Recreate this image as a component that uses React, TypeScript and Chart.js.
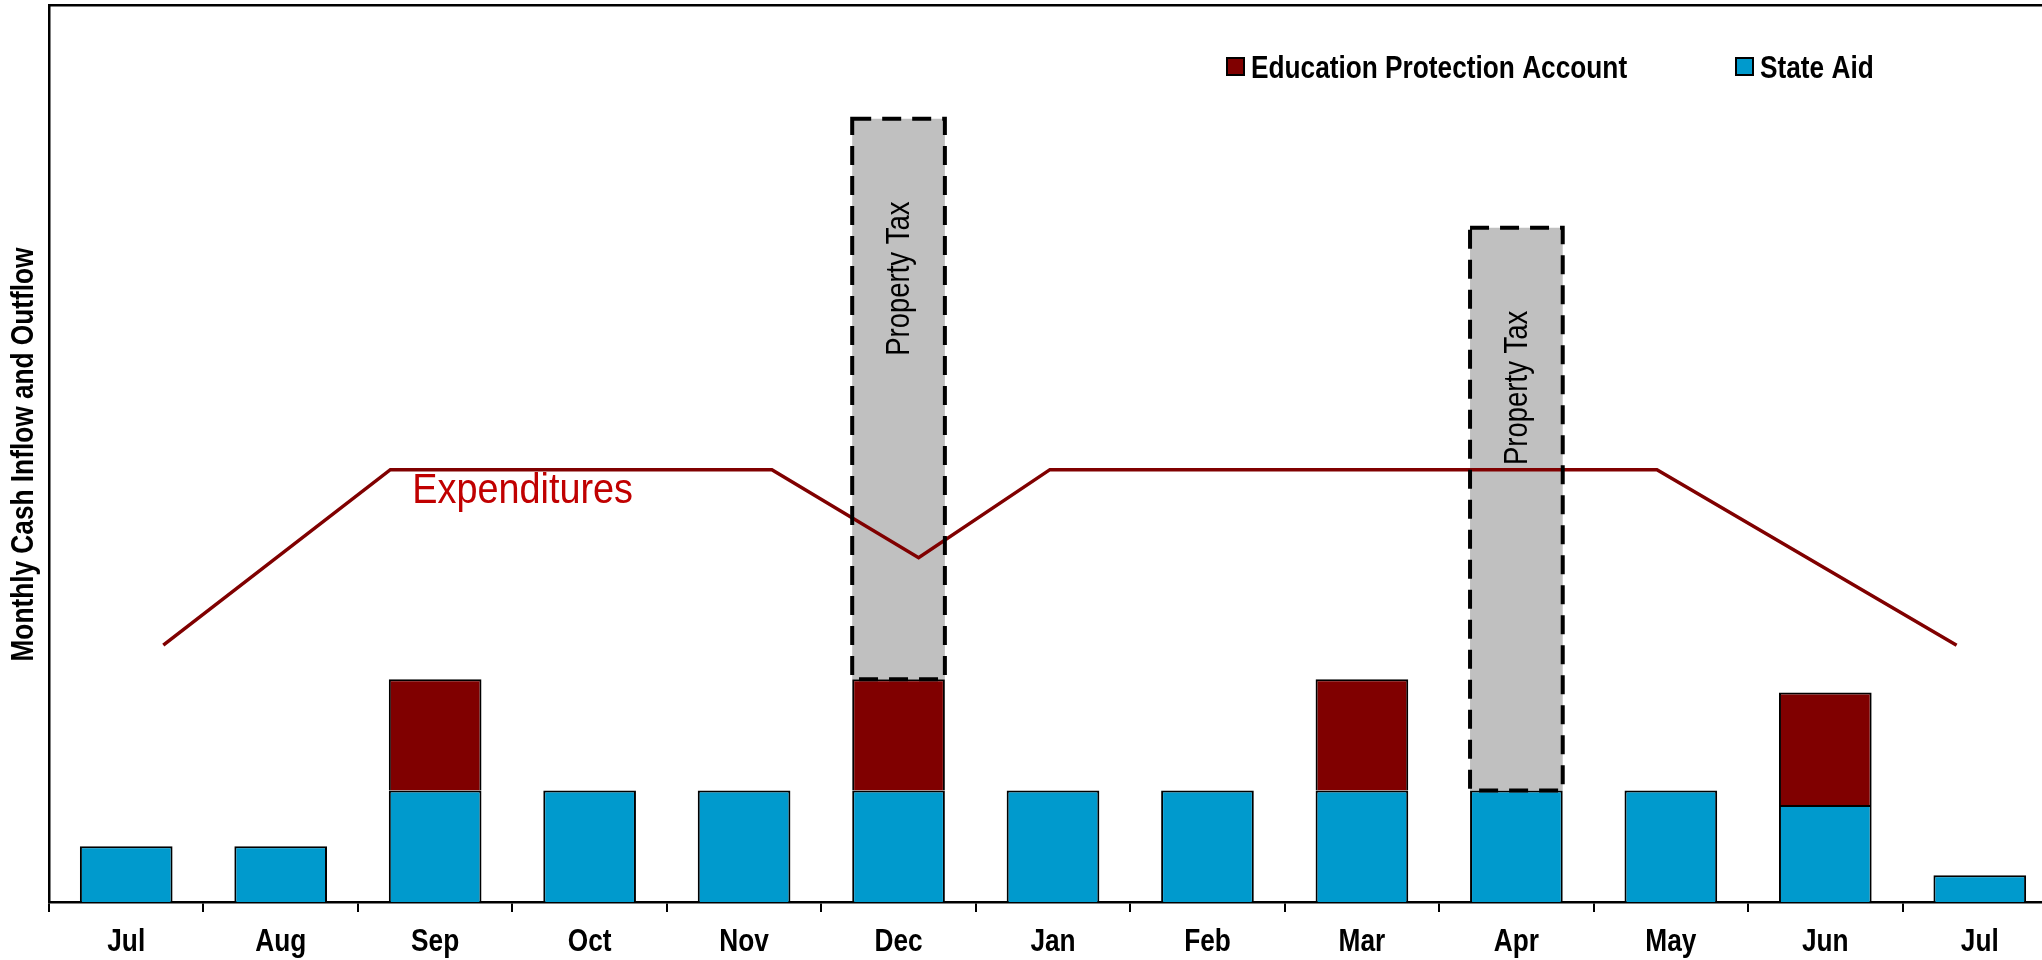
import React, { useEffect, useRef } from 'react';
import { Chart, registerables } from 'chart.js';

Chart.register(...registerables);

// ---- data (arbitrary units; a regular state aid month = 10) ----
const months = ['Jul', 'Aug', 'Sep', 'Oct', 'Nov', 'Dec', 'Jan', 'Feb', 'Mar', 'Apr', 'May', 'Jun', 'Jul'];
const stateAid = [5.0, 5.0, 10, 10, 10, 10, 10, 10, 10, 10, 10, 8.7, 2.4];
const educationProtection = [null, null, 10, null, null, 10, null, null, 10, null, null, 10.1, null];
const propertyTax = [null, null, null, null, null, 50.3, null, null, null, 50.5, null, null, null];
// expenditures line: position along the month axis (0 = first Jul) and level
const expenditureX = [0.24, 1.71, 4.18, 5.13, 5.98, 9.91, 11.85];
const expenditureY = [23.05, 38.8, 38.8, 30.9, 38.8, 38.8, 23.05];
const yMax = 80.5;

const yTitle = 'Monthly Cash Inflow and Outflow';
const propertyTaxLabel = 'Property Tax';
const expenditureLabel = 'Expenditures';
const legendItems = [
  { label: 'Education Protection Account', color: '#800000' },
  { label: 'State Aid', color: '#009ACD' },
];

const FONT = "'Liberation Sans', Arial, sans-serif";
const NARROW = 0.82;

function drawText(
  ctx: CanvasRenderingContext2D,
  text: string,
  x: number,
  y: number,
  o: { size: number; weight?: string; sx?: number; align?: CanvasTextAlign; baseline?: CanvasTextBaseline; color?: string; rotate?: number }
) {
  ctx.save();
  ctx.translate(x, y);
  if (o.rotate) ctx.rotate(o.rotate);
  ctx.scale(o.sx ?? NARROW, 1);
  ctx.font = `${o.weight ?? 'normal'} ${o.size}px ${FONT}`;
  ctx.textAlign = o.align ?? 'left';
  ctx.textBaseline = o.baseline ?? 'alphabetic';
  ctx.fillStyle = o.color ?? '#000';
  ctx.fillText(text, 0, 0);
  ctx.restore();
}

const overlayPlugin = {
  id: 'overlay',
  afterDatasetsDraw(chart: any) {
    const ctx = chart.ctx;
    // dashed borders + labels on property tax bars
    const ptMeta = chart.getDatasetMeta(2);
    ptMeta.data.forEach((el: any, i: number) => {
      if (propertyTax[i] == null) return;
      const { x, y, base, width } = el.getProps(['x', 'y', 'base', 'width'], true);
      ctx.save();
      ctx.strokeStyle = '#000';
      ctx.lineWidth = 4;
      ctx.setLineDash([19, 11]);
      ctx.strokeRect(x - width / 2, y, width, base - y);
      ctx.restore();
      drawText(ctx, propertyTaxLabel, x + 1, y + 160, {
        size: 33.5,
        rotate: -Math.PI / 2,
        align: 'center',
        baseline: 'middle',
      });
    });
    // Expenditures label next to the line
    const lineMeta = chart.getDatasetMeta(3);
    const p = lineMeta.data[1];
    if (p) {
      drawText(ctx, expenditureLabel, p.x + 22, p.y + 33, { size: 42, sx: 0.9, color: '#C00000' });
    }
  },
  afterDraw(chart: any) {
    const ctx = chart.ctx;
    const area = chart.chartArea;
    const xs = chart.scales.x;
    // category labels
    months.forEach((m, i) => {
      drawText(ctx, m, xs.getPixelForTick(i), 951, { size: 32, weight: 'bold', align: 'center' });
    });
    // y axis title
    drawText(ctx, yTitle, 24, (area.top + area.bottom) / 2 + 1, {
      size: 32,
      weight: 'bold',
      rotate: -Math.PI / 2,
      align: 'center',
      baseline: 'middle',
    });
    // legend
    const offsets = [1178, 1687];
    const cy = 66.5;
    legendItems.forEach((it, i) => {
      const bx = area.left + offsets[i];
      ctx.save();
      ctx.fillStyle = it.color;
      ctx.fillRect(bx, cy - 8.5, 17, 17);
      ctx.strokeStyle = '#000';
      ctx.lineWidth = 2;
      ctx.strokeRect(bx, cy - 8.5, 17, 17);
      ctx.restore();
      drawText(ctx, it.label, bx + 24, cy + 11.5, { size: 32, weight: 'bold' });
    });
  },
};

export default function App() {
  const ref = useRef<HTMLCanvasElement | null>(null);
  useEffect(() => {
    if (!ref.current) return;
    const barCommon = {
      barPercentage: 0.6,
      categoryPercentage: 1,
      grouped: false,
      xAxisID: 'x',
      yAxisID: 'y',
      order: 2,
    };
    const chart = new Chart(ref.current, {
      type: 'bar',
      data: {
        labels: months,
        datasets: [
          {
            label: 'State Aid',
            data: stateAid,
            backgroundColor: '#009ACD',
            borderColor: '#000',
            borderWidth: 2,
            ...barCommon,
          },
          {
            label: 'Education Protection Account',
            data: educationProtection,
            backgroundColor: '#800000',
            borderColor: '#000',
            borderWidth: 2,
            ...barCommon,
          },
          {
            label: 'Property Tax',
            data: propertyTax,
            backgroundColor: '#C0C0C0',
            borderWidth: 0,
            ...barCommon,
          },
          {
            type: 'line',
            label: 'Expenditures',
            data: expenditureX.map((x, i) => ({ x, y: expenditureY[i] })),
            xAxisID: 'xl',
            yAxisID: 'yl',
            borderColor: '#800000',
            borderWidth: 3.5,
            pointRadius: 0,
            fill: false,
            tension: 0,
            order: 1,
          } as any,
        ],
      },
      options: {
        responsive: false,
        animation: false,
        devicePixelRatio: 1,
        layout: { padding: { top: 5, left: 0, right: 0, bottom: 0 } },
        plugins: { legend: { display: false }, tooltip: { enabled: false } },
        scales: {
          x: {
            type: 'category',
            stacked: true,
            offset: true,
            grid: {
              offset: true,
              drawOnChartArea: false,
              drawTicks: true,
              tickLength: 10,
              color: '#000',
              lineWidth: 2,
            },
            border: { display: true, color: '#000', width: 2.5 },
            ticks: { display: false, autoSkip: false },
            afterFit: (s: any) => {
              s.height = 58;
            },
          },
          xl: {
            type: 'linear',
            position: 'top',
            min: -0.5,
            max: 12.5,
            offset: false,
            grid: { display: false, drawTicks: false },
            ticks: { display: false },
            border: { display: true, color: '#000', width: 2.5 },
            afterFit: (s: any) => {
              s.height = 0;
            },
          },
          y: {
            stacked: true,
            min: 0,
            max: yMax,
            grid: { display: false, drawTicks: false },
            ticks: { display: false },
            border: { display: true, color: '#000', width: 2.5 },
            afterFit: (s: any) => {
              s.width = 49;
            },
          },
          yl: {
            display: false,
            min: 0,
            max: yMax,
            afterFit: (s: any) => {
              s.width = 0;
            },
          },
        },
      },
      plugins: [overlayPlugin],
    });
    return () => chart.destroy();
  }, []);

  return (
    <div
      style={{
        position: 'absolute',
        left: 0,
        top: 0,
        width: 2042,
        height: 960,
        overflow: 'hidden',
        background: '#fff',
      }}
    >
      <canvas ref={ref} width={2057} height={960} style={{ display: 'block', width: 2057, height: 960 }} />
    </div>
  );
}
